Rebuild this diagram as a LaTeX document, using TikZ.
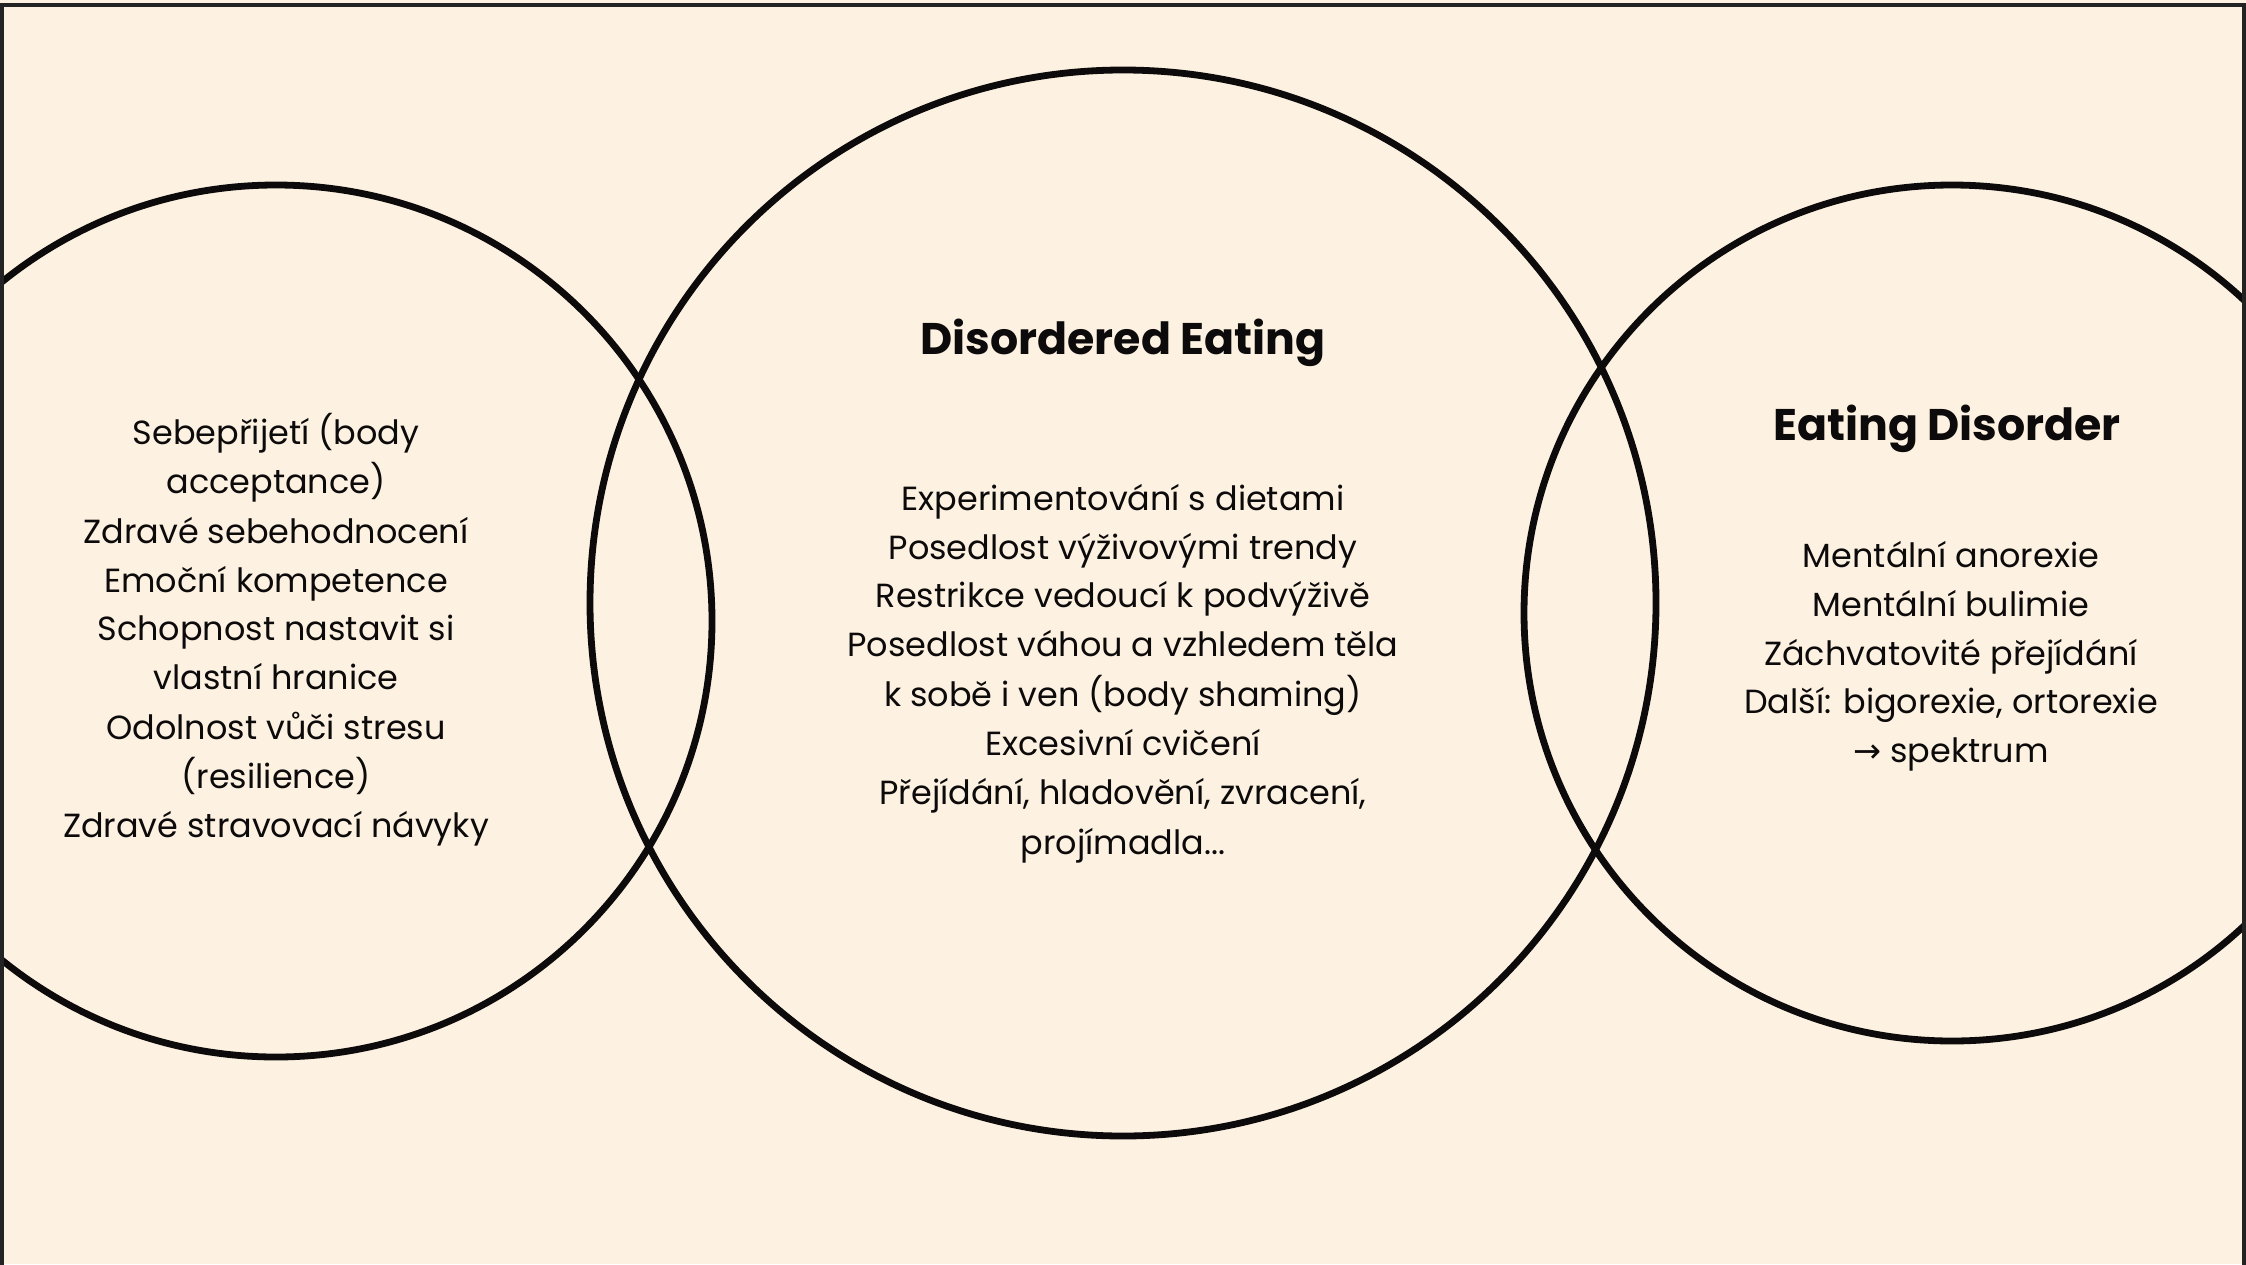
\documentclass[tikz,border=0pt]{standalone}
\usepackage{fontspec}
\setmainfont{Poppins}
\newfontfamily\arrowfont{DejaVu Sans}
\definecolor{cream}{RGB}{253,242,226}
\definecolor{ink}{RGB}{12,10,10}
\begin{document}
\begin{tikzpicture}[x=0.25mm,y=-0.25mm,
  ring/.style={line width=1.7mm, draw=ink},
  frame/.style={line width=0.8mm, draw=ink!90},
  body/.style={font=\fontsize{23.8}{35}\selectfont, anchor=mid, inner sep=0pt, text=ink},
  head/.style={font=\fontsize{31.5}{38}\selectfont\bfseries, anchor=mid, inner sep=0pt, text=ink}]
\useasboundingbox (0,0) rectangle (2246,1264);
\fill[cream] (0,0) rectangle (2246,1264);
\begin{scope}
\clip (0,0) rectangle (2246,1264);
\draw[ring] (276,621) circle[radius=436];
\draw[ring] (1123,603) circle[radius=533];
\draw[ring] (1952,613) circle[radius=428];
\draw[frame] (2,1270) -- (2,5) -- (2244,5) -- (2244,1270);
\end{scope}
% left
\node[body] (l1) at (276,441) {Sebepřijetí (body};
\node[body] (l2) at (276,490) {acceptance)};
\node[body] (l3) at (276,540) {Zdravé sebehodnocení};
\node[body] (l4) at (276,589) {Emoční kompetence};
\node[body] (l5) at (276,637) {Schopnost nastavit si};
\node[body] (l6) at (276,686) {vlastní hranice};
\node[body] (l7) at (276,736) {Odolnost vůči stresu};
\node[body] (l8) at (276,785) {(resilience)};
\node[body] (l9) at (276,834) {Zdravé stravovací návyky};
% middle
\node[head] (mt) at (1123,351) {Disordered Eating};
\node[body] (m1) at (1123,507) {Experimentování s dietami};
\node[body] (m2) at (1123,556) {Posedlost výživovými trendy};
\node[body] (m3) at (1123,604) {Restrikce vedoucí k podvýživě};
\node[body] (m4) at (1123,653) {Posedlost váhou a vzhledem těla};
\node[body] (m5) at (1123,703) {k sobě i ven (body shaming)};
\node[body] (m6) at (1123,752) {Excesivní cvičení};
\node[body] (m7) at (1123,801) {Přejídání, hladovění, zvracení,};
\node[body] (m8) at (1123,851) {projímadla...};
% right
\node[head] (rt) at (1947,437) {Eating Disorder};
\node[body] (r1) at (1951,564) {Mentální anorexie};
\node[body] (r2) at (1951,613) {Mentální bulimie};
\node[body] (r3) at (1951,662) {Záchvatovité přejídání};
\node[body] (r4) at (1951,710) {Další: bigorexie, ortorexie};
\node[body] (r5) at (1951,759) {{\arrowfont →} spektrum};
\end{tikzpicture}
\end{document}
